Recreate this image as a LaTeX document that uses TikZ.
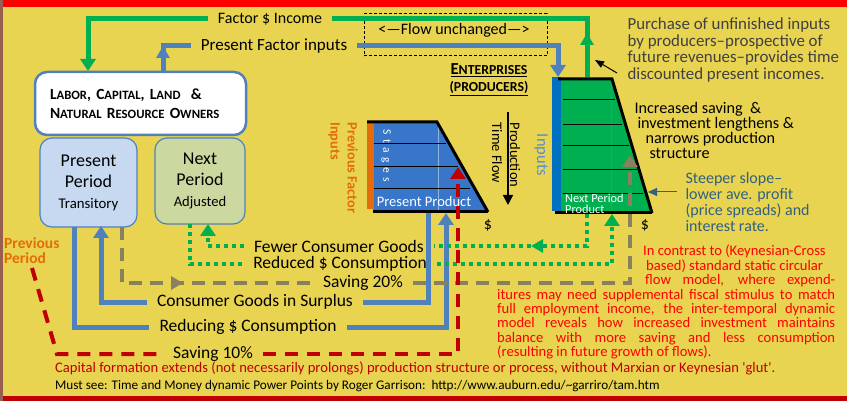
\documentclass[tikz,border=0pt]{standalone}
\usepackage{fontspec}
\setmainfont{Carlito}
\usetikzlibrary{arrows.meta,decorations.markings}
\definecolor{bgyellow}{RGB}{233,212,82}
\definecolor{flowblue}{RGB}{79,129,189}
\definecolor{flowgreen}{RGB}{0,176,80}
\definecolor{flowgray}{RGB}{137,128,96}
\definecolor{flowred}{RGB}{192,0,0}
\definecolor{prodblue}{RGB}{55,118,200}
\definecolor{inblue}{RGB}{0,112,192}
\definecolor{inputblue}{RGB}{85,142,213}
\definecolor{orng}{RGB}{228,108,10}
\definecolor{slopeblue}{RGB}{49,96,128}
\definecolor{textgray}{RGB}{64,64,64}
\definecolor{periodblue}{RGB}{198,217,241}
\definecolor{periodgreen}{RGB}{203,217,160}
\definecolor{edgebrown}{RGB}{150,95,80}
\makeatletter
\newcommand{\capword}[2]{#1{\fontsize{\strip@pt\dimexpr\f@size pt*82/100\relax}{\f@baselineskip}\selectfont #2}}
\makeatother
\begin{document}
\begin{tikzpicture}[x=1pt,y=-1pt,
  lbl/.style={inner xsep=10pt,inner ysep=0pt,font=\fontsize{17.5}{19}\selectfont},
  toplbl/.style={lbl,font=\fontsize{16}{18}\selectfont},
  blueflow/.style={color=flowblue,line width=5pt},
  greenflow/.style={color=flowgreen,line width=5pt},
  grayflow/.style={color=flowgray,line width=4pt,dash pattern=on 13pt off 8pt},
  redflow/.style={color=flowred,line width=4pt,dash pattern=on 13pt off 9pt},
  dotflow/.style={color=flowgreen,line width=4pt,dash pattern=on 4pt off 4pt},
  bigtip/.style={-{Triangle[width=15pt,length=12pt]}},
  midtip/.style={postaction={decorate,decoration={markings,mark=at position #1 with {\arrow{Triangle[width=13pt,length=12pt]}}}}},
  periodbox/.style={draw=flowblue,line width=1.2pt,rounded corners=12pt,align=center,font=\fontsize{18}{21}\selectfont},
  stageline/.style={line width=1pt},
  edgeline/.style={line width=3pt}]
\fill[bgyellow] (0,0) rectangle (847,401);
\fill[red] (0,0) rectangle (847,7);
\fill[flowred] (0,396) rectangle (847,401);
\fill[edgebrown] (0,0) rectangle (3,401);
\useasboundingbox (0,0) rectangle (847,401);
\coordinate (PA) at (367,122);
\coordinate (PB) at (437,122);
\coordinate (PC) at (488,212);
\coordinate (PD) at (373,212);
\coordinate (NA) at (558,79);
\coordinate (NB) at (612,79);
\coordinate (NC) at (652,213);
\coordinate (ND) at (555,213);
\coordinate (F1) at (88,19);
\coordinate (F2) at (88,71);
\coordinate (F3) at (587,77);
\coordinate (F4) at (587,19);
\coordinate (B1) at (163,71);
\coordinate (B2) at (163,46);
\coordinate (B3) at (558,46);
\coordinate (B4) at (558,77);
\coordinate (R1) at (74,227);
\coordinate (R2) at (74,327);
\coordinate (R3) at (446,327);
\coordinate (R4) at (446,213);
\coordinate (C1) at (428,213);
\coordinate (C2) at (428,302);
\coordinate (C3) at (101,302);
\coordinate (C4) at (101,226);
\coordinate (S1) at (122,227);
\coordinate (S2) at (122,283);
\coordinate (S3) at (630,283);
\coordinate (S4) at (630,155);
\coordinate (V0) at (32,268);
\coordinate (V1) at (57,354);
\coordinate (V2) at (458,354);
\coordinate (V3) at (458,167);
\coordinate (D1) at (587,214);
\coordinate (D2) at (587,246);
\coordinate (D3) at (208,246);
\coordinate (D4) at (208,224);
\coordinate (E1) at (190,224);
\coordinate (E2) at (190,264);
\coordinate (E3) at (612,264);
\coordinate (E4) at (612,214);
\coordinate (T1) at (508,112);
\coordinate (T2) at (508,205);
\coordinate (Q1) at (617,73);
\coordinate (Q2) at (595,60);
\coordinate (L1) at (677,192);
\coordinate (L2) at (648,192);
\fill[prodblue] (370,122) -- (PB) -- (PC) -- (PD) -- cycle;
\fill[orng] (367,123) rectangle (374,209);
\draw[white!45!prodblue,line width=0.8pt] (438,123) -- (438,211);
\foreach \y/\x in {144/446,167/458,189/470}
  \draw[stageline] (374,\y) -- (\x,\y);
\draw[edgeline] (PA) -- (PB) -- (PC);
\draw[edgeline] (PD) -- (PC);
\fill[flowgreen] (561,79) -- (NB) -- (NC) -- (561,213) -- cycle;
\fill[inblue] (552,77) rectangle (561,211);
\draw[flowblue,line width=0.8pt] (611,80) -- (611,212);
\foreach \y/\x in {100/615,125/622,146/629,170/637,194/643}
  \draw[stageline] (563,\y) -- (\x,\y);
\draw[edgeline] (NA) -- (NB) -- (NC);
\draw[edgeline] (ND) -- (NC);
\node[white,rotate=-90,font=\fontsize{11.5}{12}\selectfont] (stg) at (386,156) {S\, t\, a\, g\, e\, s};
\node[white,font=\fontsize{14.5}{16}\selectfont,inner sep=0pt] (pp) at (424,202) {Present Product};
\node[white,align=left,anchor=west,font=\fontsize{12.3}{11.5}\selectfont,inner sep=0pt] (npp) at (565,204) {Next Period\\Product};
\node[font=\fontsize{16}{18}\selectfont] (d1) at (488,225) {\$};
\node[font=\fontsize{16}{18}\selectfont] (d2) at (645,225) {\$};
\node[draw=flowblue,line width=2.5pt,fill=white,rounded corners=12pt,text width=181pt,inner xsep=15pt,minimum height=63pt,align=left,font=\bfseries\fontsize{15.5}{19}\selectfont] (own) at (140.5,103.5) {\capword{L}{ABOR}, \capword{C}{APITAL}, \capword{L}{AND} ~\&\\\capword{N}{ATURAL} \capword{R}{ESOURCE} \capword{O}{WNERS}};
\node[periodbox,fill=periodblue,minimum width=97pt,minimum height=89pt] (pres) at (88.5,182.5) {Present\\Period\\{\fontsize{14.8}{16}\selectfont Transitory}};
\node[periodbox,fill=periodgreen,minimum width=90pt,minimum height=86pt] (next) at (200,181) {Next\\Period\\{\fontsize{14.6}{16}\selectfont Adjusted}};
\node[anchor=north west,align=left,orng,font=\bfseries\fontsize{15.5}{15}\selectfont,inner sep=0pt] (prev) at (4,237) {Previous\\Period};
\node[draw,dash pattern=on 3pt off 2pt,line width=1pt,minimum width=183pt,minimum height=42pt] (fubox) at (455.5,35) {};
\node[font=\fontsize{16}{18}\selectfont] (fu) at (454,30) {<—Flow unchanged—>};
\node[font=\bfseries\fontsize{16.8}{17}\selectfont,align=center] (ent) at (489,80) {\underline{\capword{E}{NTERPRISES}}\\\underline{\capword{}{(PRODUCERS)}}};
\node[rotate=-90,align=left,font=\fontsize{14.5}{18}\selectfont] (ptf) at (506,155) {Production\\Time Flow};
\node[rotate=-90,inputblue,font=\fontsize{16.5}{18}\selectfont] (inp) at (541,155) {Inputs};
\node[rotate=-90,align=left,orng,font=\bfseries\fontsize{14.3}{17}\selectfont] (pfin) at (343,168) {Previous Factor\\Inputs};
\node[anchor=west,align=left,textgray,font=\fontsize{16.9}{16.7}\selectfont] (pur) at (624,50) {Purchase of unfinished inputs\\by producers–prospective of\\future revenues–provides time\\discounted present incomes.};
\node[anchor=west,align=left,font=\fontsize{16.2}{15}\selectfont] (inc) at (631,130) {Increased saving~~\&\\\hspace*{3pt}investment lengthens \&\\\hspace*{11pt}narrows production\\\hspace*{15pt}structure};
\node[anchor=west,align=left,slopeblue,font=\fontsize{16}{16}\selectfont] (ssl) at (682,202) {Steeper slope–\\lower ave. profit\\(price spreads) and\\interest rate.};
\node[anchor=north west,align=left,red,font=\fontsize{14.6}{14.4}\selectfont,inner sep=0pt] (kc) at (497,245) {\hspace*{146pt}In contrast to (Keynesian-Cross\\\hspace*{149pt}based) standard static circular\\\hspace*{148pt}\makebox[190pt][s]{flow model, where expend-}\\\makebox[338pt][s]{itures may need supplemental fiscal stimulus to match}\\\makebox[338pt][s]{full employment income, the inter-temporal dynamic}\\\makebox[338pt][s]{model reveals how increased investment maintains}\\\makebox[338pt][s]{balance with more saving and less consumption}\\(resulting in future growth of flows).};
\node[anchor=west,flowred,font=\fontsize{14.6}{16}\selectfont,inner sep=0pt] (cap) at (55,368) {Capital formation extends (not necessarily prolongs) production structure or process, without Marxian or Keynesian \textquotesingle glut\textquotesingle.};
\node[anchor=west,font=\fontsize{13.2}{14}\selectfont,inner sep=0pt] (must) at (55,386) {Must see: Time and Money dynamic Power Points by Roger Garrison:\ \ http://www.auburn.edu/\textasciitilde garriro/tam.htm};
\node[toplbl] (fi) at (270,19) {Factor \$ Income};
\node[toplbl,font=\fontsize{17}{18}\selectfont] (pfi) at (274,46) {Present Factor inputs};
\node[lbl] (fcg) at (339,246) {Fewer Consumer Goods};
\node[lbl] (rsc) at (340,264) {Reduced \$ Consumption};
\node[lbl] (s20) at (363,283) {Saving 20\%};
\node[lbl] (cgs) at (255,302) {Consumer Goods in Surplus};
\node[lbl] (rdc) at (248,327) {Reducing \$ Consumption};
\node[lbl] (s10) at (213,354) {Saving 10\%};
\draw[greenflow,bigtip] (fi.west) -- (F1) -- (F2);
\draw[greenflow,midtip=44pt] (F3) -- (F4) -- (fi.east);
\draw[blueflow,midtip=25pt] (B1) -- (B2) -- (pfi.west);
\draw[blueflow,bigtip] (pfi.east) -- (B3) -- (B4);
\draw[blueflow] (R1) -- (R2) -- (rdc.west);
\draw[blueflow,bigtip] (rdc.east) -- (R3) -- (R4);
\draw[blueflow] (C1) -- (C2) -- (cgs.east);
\draw[blueflow,bigtip] (cgs.west) -- (C3) -- (C4);
\draw[dotflow,midtip=88pt] (D1) -- (D2) -- (fcg.east);
\draw[dotflow,bigtip] (fcg.west) -- (D3) -- (D4);
\draw[dotflow] (E1) -- (E2) -- (rsc.west);
\draw[dotflow,bigtip] (rsc.east) -- (E3) -- (E4);
\draw[grayflow,midtip=117pt] (S1) -- (S2) -- (s20.west);
\draw[grayflow,bigtip] (s20.east) -- (S3) -- (S4);
\draw[redflow] (V0) -- (V1) -- (s10.west);
\draw[redflow,bigtip] (s10.east) -- (V2) -- (V3);
\draw[line width=1.5pt,-{Triangle[width=10pt,length=10pt]}] (T1) -- (T2);
\draw[line width=1pt,-{Triangle[width=7pt,length=9pt]}] (Q1) -- (Q2);
\draw[slopeblue,line width=1pt,-{Triangle[width=8pt,length=9pt]}] (L1) -- (L2);
\end{tikzpicture}
\end{document}
